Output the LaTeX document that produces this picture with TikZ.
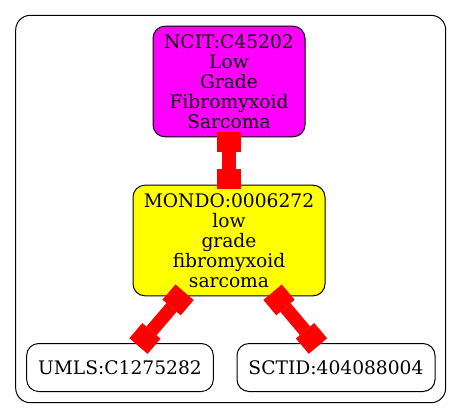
\documentclass[tikz,border=0pt]{standalone}
\usepackage{fontspec}
\setmainfont{DejaVu Serif}
\usetikzlibrary{arrows.meta}
\definecolor{hitfill}{RGB}{255,0,255}
\definecolor{anchorfill}{RGB}{255,255,0}
\definecolor{linkred}{RGB}{255,0,0}

\begin{document}
\begin{tikzpicture}[
  x=0.75pt, y=-0.75pt,
  font=\fontsize{14pt}{15pt}\selectfont,
  term/.style={
    draw=black, line width=0.75pt, align=center,
    inner sep=0pt, rounded corners=9pt
  },
  hit/.style={term, fill=hitfill},
  anchorterm/.style={term, fill=anchorfill},
  xref/.style={term, fill=white},
  link/.style={
    draw=linkred, line width=10pt,
    {Rectangle[length=15pt, width=18pt, line width=0pt]}-{Rectangle[length=15pt, width=18pt, line width=0pt]},
    shorten <=-4pt, shorten >=-3pt
  },
]
\useasboundingbox (0,0) rectangle (461,419);

% Cluster frame
\draw[line width=0.75pt, rounded corners=11pt] (15.7,15.3) rectangle (445.7,402.7);

% Terms
\node[hit, minimum width=114pt, minimum height=83pt] (ncit) at (229,81.5)
  {NCIT:C45202\\Low\\Grade\\Fibromyxoid\\Sarcoma};
\node[anchorterm, minimum width=144pt, minimum height=83pt] (mondo) at (229,240.5)
  {MONDO:0006272\\low\\grade\\fibromyxoid\\sarcoma};
\node[xref, minimum width=140pt, minimum height=36pt] (umls) at (120,367.5)
  {UMLS:C1275282};
\node[xref, minimum width=148.5pt, minimum height=36pt] (sctid) at (336,367.5)
  {SCTID:404088004};

% Equivalence links
\draw[link] (ncit) -- (mondo);
\draw[link] (mondo) -- (umls);
\draw[link] (mondo) -- (sctid);

\end{tikzpicture}
\end{document}
